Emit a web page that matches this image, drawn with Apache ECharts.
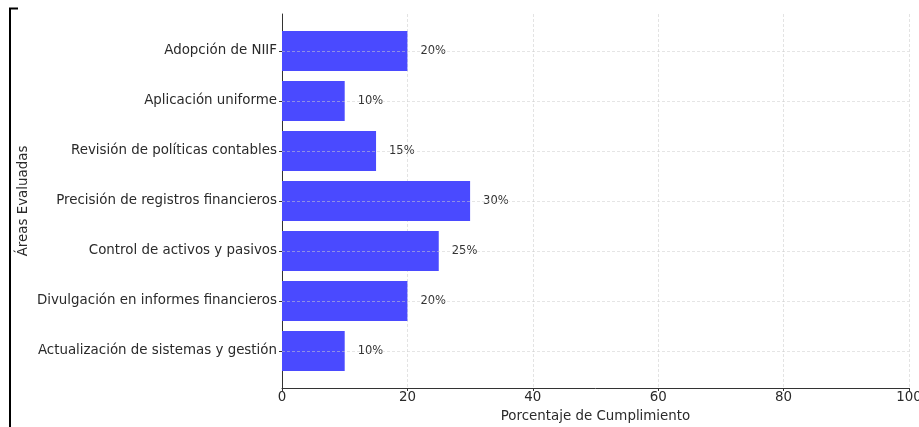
<!DOCTYPE html>
<html>
<head>
<meta charset="utf-8">
<script src="https://cdn.jsdelivr.net/npm/echarts@6/dist/echarts.min.js"></script>
<style>
html,body{margin:0;padding:0;background:#fff;}
#c{width:919px;height:427px;}
</style>
</head>
<body>
<div id="c"></div>
<script>
const categories = [
  "Adopción de NIIF",
  "Aplicación uniforme",
  "Revisión de políticas contables",
  "Precisión de registros financieros",
  "Control de activos y pasivos",
  "Divulgación en informes financieros",
  "Actualización de sistemas y gestión"
];
const values = [20, 10, 15, 30, 25, 20, 10];
const xTicks = [0, 20, 40, 60, 80, 100];
const xTitle = "Porcentaje de Cumplimiento";
const yTitle = "Áreas Evaluadas";

const FONT = "DejaVu Sans";
const FS = 13.4;
const chart = echarts.init(document.getElementById('c'), null, {renderer: 'canvas'});
chart.setOption({
  animation: false,
  backgroundColor: '#fff',
  textStyle: {fontFamily: FONT},
  grid: [
    {left: 282, right: 10, top: 14, bottom: 39, containLabel: false, outerBoundsMode: 'none'},
    {left: 282, right: 10, top: 51, bottom: 76, containLabel: false, outerBoundsMode: 'none'}
  ],
  xAxis: [
    {
      gridIndex: 0, type: 'value', min: xTicks[0], max: xTicks[xTicks.length - 1], interval: 20,
      name: xTitle, nameLocation: 'middle', nameGap: 22,
      nameTextStyle: {fontFamily: FONT, fontSize: FS, color: '#2a2a2a'},
      axisLine: {show: true, lineStyle: {color: '#333', width: 1}},
      axisTick: {show: true, length: 3, lineStyle: {color: '#333'}},
      axisLabel: {fontFamily: FONT, fontSize: FS, color: '#2a2a2a', margin: 3, hideOverlap: false},
      splitLine: {show: true, lineStyle: {color: '#dcdcdc', type: [3, 2], width: 0.8}}
    },
    {
      gridIndex: 1, type: 'value', min: 0, max: 100, show: false
    }
  ],
  yAxis: [
    {
      gridIndex: 0, type: 'value', min: 0, max: 1,
      name: yTitle, nameLocation: 'middle', nameGap: 252, nameRotate: 90,
      nameTextStyle: {fontFamily: FONT, fontSize: FS, color: '#2a2a2a'},
      axisLine: {show: true, onZero: false, lineStyle: {color: '#333', width: 1}},
      axisTick: {show: false}, axisLabel: {show: false}, splitLine: {show: false}
    },
    {
      gridIndex: 1, type: 'category', data: categories, inverse: true, boundaryGap: false,
      z: 3,
      axisLine: {show: false},
      axisTick: {show: true, length: 3, lineStyle: {color: '#333'}},
      axisLabel: {fontFamily: FONT, fontSize: FS, color: '#2a2a2a', margin: 5},
      splitLine: {show: true, lineStyle: {color: 'rgba(205,205,205,0.65)', type: [3, 2], width: 0.8}}
    }
  ],
  series: [
    {
      type: 'bar', xAxisIndex: 1, yAxisIndex: 1, data: values,
      barWidth: 40, clip: false,
      itemStyle: {color: '#4a4aff'},
      label: {
        show: true, position: 'right', distance: 13,
        formatter: p => p.value + '%',
        fontFamily: FONT, fontSize: 11.5, color: '#333'
      }
    }
  ],
  graphic: [
    {type: 'line', shape: {x1: 10, y1: 8, x2: 10, y2: 427}, style: {stroke: '#000', lineWidth: 2}},
    {type: 'line', shape: {x1: 9, y1: 8.5, x2: 18, y2: 8.5}, style: {stroke: '#000', lineWidth: 2}}
  ]
});
</script>
</body>
</html>
